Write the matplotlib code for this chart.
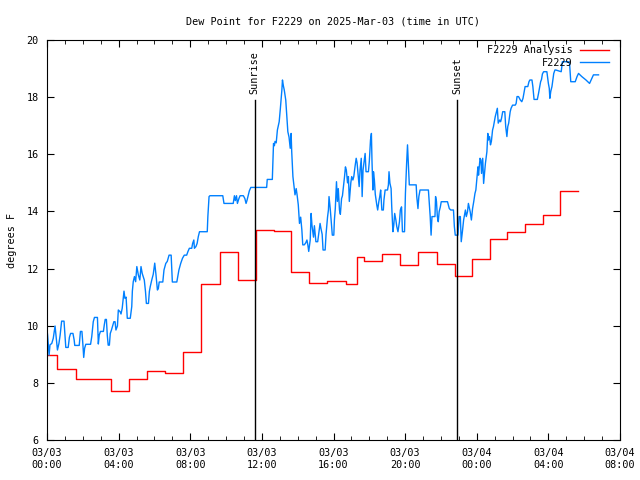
import matplotlib
matplotlib.use("Agg")
import numpy as np
import matplotlib.pyplot as plt

# minutes after 2025-03-03 00:00 UTC
obs_min = [0, 2, 7, 10, 16, 21, 27, 30, 35, 40, 44, 49, 57, 60, 63, 71, 75, 79, 87, 91,
           93, 108, 112, 117, 120, 123, 126, 130, 146, 150, 155, 159, 169, 172, 175, 179, 189, 192, 195, 199,
           202, 205, 209, 212, 216, 220, 224, 228, 231, 236, 239, 245, 248, 252, 258, 261, 265, 269, 279, 284,
           286, 289, 293, 297, 301, 306, 311, 315, 319, 326, 330, 333, 340, 343, 346, 351, 356, 361, 365, 370,
           373, 376, 388, 392, 398, 403, 409, 416, 418, 420, 435, 438, 442, 448, 454, 460, 468, 472, 477, 485,
           488, 492, 494, 499, 503, 507, 511, 537, 539, 543, 546, 589, 591, 593, 624, 628, 631, 635, 638, 643,
           647, 658, 663, 667, 670, 674, 678, 683, 736, 738, 755, 759, 762, 764, 768, 772, 778, 782, 787, 789,
           792, 795, 800, 803, 807, 811, 815, 818, 820, 824, 828, 831, 835, 838, 842, 846, 850, 854, 857, 862,
           867, 871, 874, 877, 882, 885, 888, 893, 896, 901, 907, 912, 915, 918, 922, 925, 932, 935, 940, 943,
           945, 949, 952, 956, 961, 963, 966, 970, 973, 976, 980, 983, 987, 990, 993, 997, 1000, 1003, 1007, 1010,
           1013, 1018, 1021, 1025, 1028, 1032, 1036, 1039, 1043, 1046, 1049, 1053, 1056, 1059, 1063, 1066, 1069, 1077, 1080, 1084,
           1087, 1089, 1092, 1094, 1097, 1100, 1105, 1108, 1112, 1115, 1118, 1122, 1127, 1129, 1133, 1141, 1144, 1146, 1149, 1153,
           1155, 1159, 1162, 1165, 1169, 1172, 1176, 1181, 1184, 1188, 1191, 1198, 1201, 1205, 1208, 1211, 1214, 1237, 1239, 1243,
           1246, 1250, 1278, 1280, 1284, 1287, 1290, 1300, 1302, 1305, 1308, 1311, 1314, 1318, 1321, 1342, 1345, 1348, 1353, 1362,
           1365, 1368, 1377, 1379, 1381, 1385, 1388, 1392, 1396, 1402, 1405, 1409, 1412, 1418, 1422, 1426, 1430, 1434, 1437, 1440,
           1444, 1446, 1449, 1451, 1454, 1456, 1460, 1463, 1466, 1469, 1474, 1477, 1479, 1483, 1486, 1489, 1493, 1496, 1499, 1502,
           1506, 1509, 1512, 1517, 1520, 1523, 1527, 1534, 1537, 1541, 1544, 1547, 1552, 1555, 1560, 1569, 1572, 1575, 1580, 1586,
           1591, 1595, 1599, 1602, 1611, 1615, 1618, 1625, 1628, 1632, 1643, 1647, 1650, 1654, 1657, 1660, 1664, 1675, 1677, 1680,
           1683, 1685, 1688, 1692, 1695, 1698, 1702, 1705, 1723, 1725, 1727, 1747, 1751, 1753, 1755, 1770, 1776, 1781, 1792, 1806,
           1818, 1826, 1831, 1848]
obs_dewp = [9.85, 9.67, 8.97, 9.33, 9.38, 9.56, 9.99, 9.67, 9.15, 9.38, 9.67, 10.16, 10.16, 9.67, 9.24, 9.24, 9.59, 9.73, 9.73, 9.5,
            9.31, 9.31, 9.8, 9.8, 9.38, 8.89, 9.21, 9.35, 9.35, 9.62, 10.14, 10.29, 10.29, 9.36, 9.67, 9.8, 9.8, 10.03, 10.22, 10.22,
            9.67, 9.32, 9.32, 9.73, 9.85, 9.99, 10.14, 10.14, 9.85, 9.99, 10.55, 10.49, 10.41, 10.61, 11.21, 10.96, 11.0, 10.26, 10.26, 10.67,
            11.21, 11.54, 11.72, 11.54, 12.07, 11.78, 11.6, 12.07, 11.83, 11.6, 11.2, 10.78, 10.78, 11.2, 11.37, 11.6, 11.8, 12.19, 11.8, 11.25,
            11.3, 11.53, 11.53, 11.95, 12.18, 12.25, 12.47, 12.47, 12.01, 11.53, 11.53, 11.72, 11.95, 12.18, 12.36, 12.47, 12.47, 12.59, 12.71, 12.71,
            12.88, 13.0, 12.71, 12.77, 12.88, 13.12, 13.29, 13.29, 13.82, 14.52, 14.55, 14.55, 14.41, 14.28, 14.28, 14.55, 14.38, 14.55, 14.28, 14.45,
            14.55, 14.55, 14.45, 14.28, 14.38, 14.55, 14.72, 14.84, 14.84, 15.12, 15.12, 16.38, 16.3, 16.45, 16.4, 16.85, 17.14, 17.61, 18.25, 18.6,
            18.4, 18.25, 17.9, 17.43, 16.79, 16.6, 16.21, 16.73, 16.09, 15.22, 14.87, 14.58, 14.8, 14.58, 14.23, 13.58, 13.8, 13.35, 12.83, 12.83,
            12.9, 13.0, 12.83, 12.6, 13.0, 13.93, 13.5, 13.1, 13.5, 12.94, 12.94, 13.35, 13.58, 13.4, 13.2, 12.65, 12.65, 13.2, 13.8, 14.05,
            14.52, 14.1, 13.7, 13.17, 13.17, 13.7, 14.1, 15.04, 14.35, 14.8, 14.05, 13.9, 14.45, 14.55, 14.84, 15.22, 15.56, 15.45, 15.0, 15.22,
            14.35, 15.0, 15.22, 15.1, 15.22, 15.56, 15.86, 15.7, 15.22, 14.87, 15.45, 15.86, 14.52, 15.45, 15.8, 16.03, 15.39, 15.39, 15.75, 16.5,
            16.73, 15.75, 14.75, 15.39, 15.1, 14.6, 14.23, 14.05, 14.35, 14.52, 14.75, 14.05, 14.05, 14.4, 14.75, 14.75, 14.93, 15.39, 14.99, 14.8,
            14.2, 13.29, 13.52, 13.93, 13.7, 13.47, 13.29, 13.64, 14.05, 14.16, 13.29, 13.29, 14.63, 15.68, 16.33, 15.63, 14.93, 14.93, 14.52, 14.1,
            14.52, 14.75, 14.75, 14.45, 13.82, 13.17, 13.82, 13.82, 14.52, 14.35, 13.82, 13.64, 13.99, 14.16, 14.34, 14.34, 14.22, 14.1, 14.05, 14.05,
            13.47, 13.17, 13.17, 13.5, 13.82, 13.82, 12.94, 13.3, 13.7, 14.05, 13.82, 13.99, 14.28, 13.99, 13.7, 14.1, 14.35, 14.63, 14.75, 15.1,
            15.56, 15.27, 15.6, 15.86, 15.8, 15.33, 15.86, 14.98, 15.33, 15.68, 16.09, 16.73, 16.5, 16.62, 16.33, 16.45, 16.85, 16.97, 17.14, 17.32,
            17.49, 17.61, 17.09, 17.2, 17.14, 17.26, 17.49, 17.49, 16.97, 16.62, 16.97, 17.09, 17.49, 17.61, 17.72, 17.72, 17.78, 18.02, 18.02, 17.9,
            17.84, 17.96, 18.19, 18.37, 18.37, 18.54, 18.6, 18.6, 18.37, 17.92, 17.92, 18.13, 18.31, 18.54, 18.62, 18.81, 18.89, 18.89, 18.72, 18.48,
            18.31, 17.96, 18.2, 18.37, 18.6, 18.83, 18.95, 18.95, 18.89, 19.07, 19.24, 19.24, 19.18, 18.83, 18.54, 18.54, 18.72, 18.83, 18.72, 18.6,
            18.48, 18.66, 18.78, 18.78]

# hourly analysis, step start times (minutes) and values
ana_min = [0, 34, 97, 215, 275, 335, 395, 456, 516, 580, 640, 701, 761, 818, 878, 939,
           1002, 1039, 1062, 1123, 1183, 1244, 1307, 1368, 1424, 1485, 1542, 1602, 1663, 1719, 1780]
ana_dewp = [8.96, 8.47, 8.12, 7.70, 8.12, 8.40, 8.36, 9.07, 11.45, 12.57, 11.59, 13.34, 13.30, 11.87, 11.50, 11.56,
            11.46, 12.39, 12.25, 12.50, 12.13, 12.57, 12.16, 11.73, 12.32, 13.02, 13.27, 13.55, 13.87, 14.70, 14.70]

sunrise_min = 696
sunset_min = 1374
tick_labels = ["03/03\n00:00", "03/03\n04:00", "03/03\n08:00", "03/03\n12:00", "03/03\n16:00",
               "03/03\n20:00", "03/04\n00:00", "03/04\n04:00", "03/04\n08:00"]

plt.rcParams['font.family'] = 'DejaVu Sans Mono'
plt.rcParams['font.size'] = 7.3

fig = plt.figure(figsize=(6.4, 4.8), dpi=100)
ax = fig.add_axes([47 / 640, 40 / 480, 573 / 640, 400 / 480])

ax.plot(np.array(ana_min) / 60, ana_dewp, color='#ff0000', lw=1.0,
        drawstyle='steps-post', label='F2229 Analysis')
ax.plot(np.array(obs_min) / 60, obs_dewp, color='#0080ff', lw=1.0, label='F2229')

for t, name in [(sunrise_min, 'Sunrise'), (sunset_min, 'Sunset')]:
    ax.axvline(t / 60, ymin=0, ymax=0.85, color='black', lw=1.0)
    ax.text(t / 60, 18.1, name, rotation=90, ha='center', va='bottom')

ax.set_xlim(0, 32)
ax.set_ylim(6, 20)
ax.set_xticks(np.arange(0, 33, 4))
ax.set_xticks(np.arange(0, 33, 1), minor=True)
ax.set_xticklabels(tick_labels)
ax.set_yticks(np.arange(6, 21, 2))
ax.tick_params(which='both', direction='in', top=True, right=True)
ax.tick_params(which='major', length=5, pad=6)
ax.tick_params(which='minor', length=3)
ax.set_ylabel('degrees F')
ax.yaxis.set_label_coords(-0.053, 0.5)
ax.set_title('Dew Point for F2229 on 2025-Mar-03 (time in UTC)', fontsize=7.3, pad=11)

ax.legend(loc='upper right', frameon=False, markerfirst=False, handlelength=2.9,
          borderaxespad=0.1, labelspacing=0.25, handletextpad=0.7,
          bbox_to_anchor=(0.99, 1.0))

fig.savefig('out.png', dpi=100)
